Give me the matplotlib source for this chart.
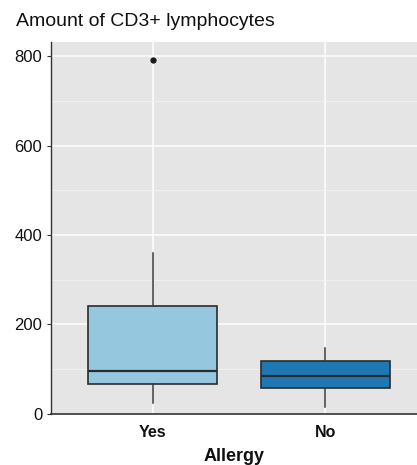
import matplotlib.pyplot as plt
from matplotlib.ticker import MultipleLocator

plt.rcParams['font.family'] = ['Liberation Sans', 'DejaVu Sans']

# values
groups = ['Yes', 'No']
whislo = [24, 15]
q1 = [67, 59]
med = [97, 85]
q3 = [242, 118]
whishi = [360, 148]
fliers = [[791], []]
colors = ['#95c8df', '#1f78b4']

stats = []
for i in range(len(groups)):
    stats.append(dict(label=groups[i], whislo=whislo[i], q1=q1[i], med=med[i],
                      q3=q3[i], whishi=whishi[i], fliers=fliers[i]))

fig = plt.figure(figsize=(4.17, 4.65), dpi=100)
ax = fig.add_axes([0.1216, 0.1097, 0.8784, 0.8006])
ax.set_facecolor('#e5e5e5')

bp = ax.bxp(stats, positions=[1, 2], widths=0.75, patch_artist=True,
            boxprops=dict(edgecolor='#2b2b2b', linewidth=1.2),
            medianprops=dict(color='#2b2b2b', linewidth=1.6),
            whiskerprops=dict(color='#3a3a3a', linewidth=1.1),
            capprops=dict(linewidth=0),
            flierprops=dict(marker='o', markersize=3.5, markerfacecolor='#1a1a1a',
                            markeredgecolor='#1a1a1a'),
            zorder=3)
for patch, c in zip(bp['boxes'], colors):
    patch.set_facecolor(c)

ax.set_xlim(0.41, 2.53)
ax.set_ylim(0, 832)
ax.yaxis.set_major_locator(MultipleLocator(200))
ax.yaxis.set_minor_locator(MultipleLocator(100))
ax.grid(which='major', color='white', linewidth=1.1, zorder=0)
ax.grid(which='minor', axis='y', color='#f2f2f2', linewidth=0.6, zorder=0)
ax.set_axisbelow(True)

for s in ['top', 'right']:
    ax.spines[s].set_visible(False)
ax.spines['left'].set_color('#333333')
ax.spines['bottom'].set_color('#333333')
ax.spines['left'].set_linewidth(1.0)
ax.spines['bottom'].set_linewidth(1.2)

ax.tick_params(axis='y', which='major', length=3, color='#333333', labelsize=12,
               labelcolor='#111111', pad=3)
ax.tick_params(axis='y', which='minor', length=0)
ax.tick_params(axis='x', length=0, labelsize=11.5, labelcolor='#111111', pad=8)
for lab in ax.get_xticklabels():
    lab.set_fontweight('semibold')

ax.set_xlabel('Allergy', fontsize=13, fontweight='semibold', color='#111111', labelpad=6)
fig.text(0.038, 0.953, 'Amount of CD3+ lymphocytes', fontsize=14, color='#111111',
         ha='left', va='center')

fig.savefig('out.png', dpi=100)
